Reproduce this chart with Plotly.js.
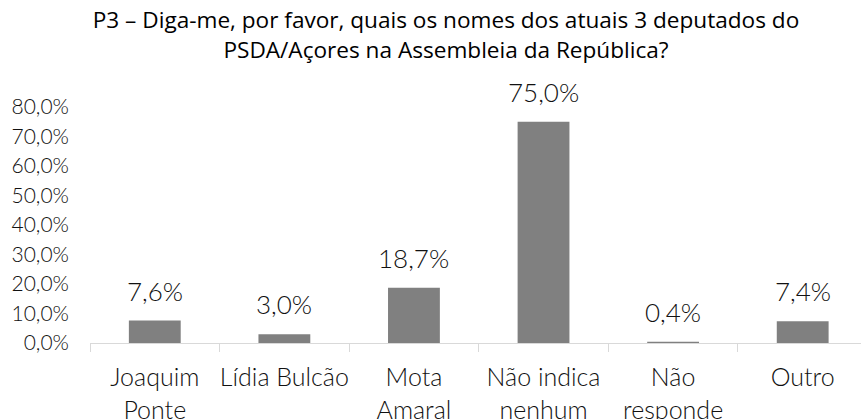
<!DOCTYPE html>
<html>
<head>
<meta charset="utf-8">
<script src="https://cdn.plot.ly/plotly-3.0.1.min.js"></script>
<style>html,body{margin:0;padding:0;background:#fff;}#chart{width:861px;height:419px;}</style>
</head>
<body>
<div id="chart"></div>
<script>
const categories = ['Joaquim Ponte', 'Lídia Bulcão', 'Mota Amaral', 'Não indica nenhum', 'Não responde', 'Outro'];
const tickLabels = ['Joaquim<br>Ponte', 'Lídia Bulcão', 'Mota<br>Amaral', 'Não indica<br>nenhum', 'Não<br>responde', 'Outro'];
const values = [7.6, 3.0, 18.7, 75.0, 0.4, 7.4];
const valueLabels = ['7,6%', '3,0%', '18,7%', '75,0%', '0,4%', '7,4%'];
const yTickVals = [0, 10, 20, 30, 40, 50, 60, 70, 80];
const yTickText = ['0,0%', '10,0%', '20,0%', '30,0%', '40,0%', '50,0%', '60,0%', '70,0%', '80,0%'];
const titleText = 'P3 – Diga-me, por favor, quais os nomes dos atuais 3 deputados do<br>PSDA/Açores na Assembleia da República?';

const FONT = 'Lato, "Open Sans", sans-serif';
const TITLE_FONT = '"Open Sans", Lato, sans-serif';
const TEXT_COLOR = '#111111';

const trace = {
  type: 'bar',
  x: categories,
  y: values,
  marker: {color: '#808080'},
  hoverinfo: 'none'
};

const annotations = categories.map((c, i) => ({
  x: c, y: values[i], xref: 'x', yref: 'y',
  text: valueLabels[i], showarrow: false,
  yanchor: 'bottom', yshift: 12,
  font: {family: FONT, size: 26, color: TEXT_COLOR, weight: 300}
}));

const layout = {
  width: 861, height: 419,
  margin: {l: 90, r: 0, t: 107, b: 76, pad: 0},
  paper_bgcolor: '#fff', plot_bgcolor: '#fff',
  bargap: 0.6,
  showlegend: false,
  title: {
    text: titleText,
    x: 0.518, xanchor: 'center', xref: 'container',
    y: 0.932, yanchor: 'top', yref: 'container',
    font: {family: TITLE_FONT, size: 22.6, color: '#000'}
  },
  xaxis: {
    type: 'category',
    range: [-0.5, 5.45],
    tickvals: categories, ticktext: tickLabels,
    tickangle: 0,
    ticks: 'outside', tickson: 'boundaries', ticklen: 8, tickcolor: '#d9d9d9', tickwidth: 1,
    showline: true, linecolor: '#d9d9d9', linewidth: 1,
    showgrid: false, zeroline: false,
    ticklabelstandoff: 12,
    tickfont: {family: FONT, size: 25, color: TEXT_COLOR, weight: 300},
    fixedrange: true
  },
  yaxis: {
    range: [0, 80],
    tickvals: yTickVals, ticktext: yTickText,
    showgrid: false, zeroline: false, showline: false, ticks: '',
    ticklabelstandoff: 20,
    tickfont: {family: FONT, size: 21, color: TEXT_COLOR, weight: 300},
    fixedrange: true
  },
  annotations: annotations
};

Plotly.newPlot('chart', [trace], layout, {displayModeBar: false, staticPlot: true});
</script>
</body>
</html>
